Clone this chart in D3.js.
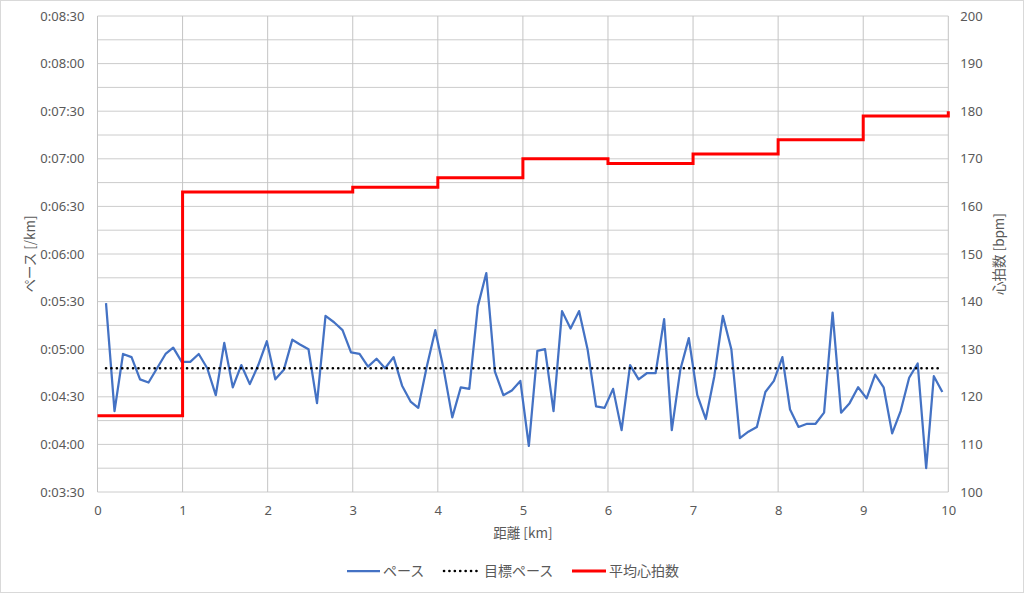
<!DOCTYPE html>
<html>
<head>
<meta charset="utf-8">
<script src="https://cdn.jsdelivr.net/npm/d3@7"></script>
<style>
  body { margin: 0; background: #fff; }
  svg { display: block; font-family: "Noto Sans CJK JP", "Noto Sans", sans-serif; }
</style>
</head>
<body>
<div id="chart"></div>
<script>
// distance of each pace sample [km]
const distances = [0.10, 0.20, 0.30, 0.40, 0.50, 0.60, 0.70, 0.80, 0.89, 0.99,
    1.09, 1.19, 1.29, 1.39, 1.49, 1.59, 1.69, 1.79, 1.89, 1.99,
    2.09, 2.19, 2.29, 2.38, 2.48, 2.58, 2.68, 2.78, 2.88, 2.98,
    3.08, 3.18, 3.28, 3.38, 3.48, 3.58, 3.68, 3.77, 3.87, 3.97,
    4.07, 4.17, 4.27, 4.37, 4.47, 4.57, 4.67, 4.77, 4.87, 4.97,
    5.07, 5.17, 5.26, 5.36, 5.46, 5.56, 5.66, 5.76, 5.86, 5.96,
    6.06, 6.16, 6.26, 6.36, 6.46, 6.56, 6.66, 6.75, 6.85, 6.95,
    7.05, 7.15, 7.25, 7.35, 7.45, 7.55, 7.65, 7.75, 7.85, 7.95,
    8.05, 8.14, 8.24, 8.34, 8.44, 8.54, 8.64, 8.74, 8.84, 8.94,
    9.04, 9.14, 9.24, 9.34, 9.44, 9.54, 9.64, 9.74, 9.83, 9.93]

// pace [seconds per km]
const pace = [329, 261, 297, 295, 281, 279, 288, 297, 301, 292,
    292, 297, 288, 271, 304, 276, 290, 278, 290, 305,
    281, 287, 306, 303, 300, 266, 321, 317, 312, 298,
    297, 289, 294, 288, 295, 277, 267, 263, 289, 312,
    287, 257, 276, 275, 327, 348, 286, 271, 274, 280,
    239, 299, 300, 261, 324, 313, 324, 300, 264, 263,
    275, 249, 290, 281, 285, 285, 319, 249, 287, 307,
    271, 256, 283, 321, 300, 244, 248, 251, 273, 280,
    295, 262, 251, 253, 253, 260, 323, 260, 266, 276,
    269, 284, 276, 247, 261, 282, 291, 225, 283, 273]

const targetPace = 288

// average heart rate per km (value holds until next km)
const hrDistances = [0, 1, 2, 3, 4, 5, 6, 7, 8, 9, 10]
const heartRate = [116, 163, 163, 164, 166, 170, 169, 171, 174, 179, 180]

const xTicks = [0, 1, 2, 3, 4, 5, 6, 7, 8, 9, 10]
const paceTicks = [210, 240, 270, 300, 330, 360, 390, 420, 450, 480, 510]
const hrTicks = [100, 110, 120, 130, 140, 150, 160, 170, 180, 190, 200]

const seriesNames = ["ペース", "目標ペース", "平均心拍数"]

const width = 1024
const height = 593
const plotLeft = 97.5, plotRight = 948.3, plotTop = 16, plotBottom = 492

const x = d3.scaleLinear().domain([0, 10]).range([plotLeft, plotRight])
const yPace = d3.scaleLinear().domain([210, 510]).range([plotBottom, plotTop])
const yHr = d3.scaleLinear().domain([100, 200]).range([plotBottom, plotTop])

const fmtPace = s => `0:${String(Math.floor(s / 60)).padStart(2, "0")}:${String(s % 60).padStart(2, "0")}`

const svg = d3.select("#chart")
    .append("svg")
    .attr("width", width)
    .attr("height", height)

svg.append("rect")
    .attr("x", 0.5).attr("y", 0.5)
    .attr("width", width - 1).attr("height", height - 1)
    .attr("fill", "#fff")
    .attr("stroke", "#d9d9d9")

// gridlines: every 15 s horizontally, every km vertically
const gridPace = d3.range(210, 511, 15)
svg.append("g")
    .attr("stroke", "#cccccc")
    .attr("stroke-width", 1)
    .selectAll("line")
    .data(gridPace)
    .join("line")
    .attr("x1", plotLeft).attr("x2", plotRight)
    .attr("y1", d => yPace(d)).attr("y2", d => yPace(d))

svg.append("g")
    .attr("stroke", "#c4c4c4")
    .attr("stroke-width", 1)
    .selectAll("line")
    .data(xTicks)
    .join("line")
    .attr("x1", d => x(d)).attr("x2", d => x(d))
    .attr("y1", plotTop).attr("y2", plotBottom)

// axes (labels only)
const axisStyle = g => {
    g.select(".domain").remove()
    g.selectAll(".tick line").remove()
    g.selectAll("text")
        .attr("fill", "#595959")
        .attr("font-size", 13)
        .attr("font-family", "\"Noto Sans\", sans-serif")
}

svg.append("g")
    .attr("transform", `translate(${plotLeft - 4},0)`)
    .call(d3.axisLeft(yPace).tickValues(paceTicks).tickFormat(fmtPace).tickSize(0).tickPadding(9))
    .call(axisStyle)

svg.append("g")
    .attr("transform", `translate(${plotRight + 3},0)`)
    .call(d3.axisRight(yHr).tickValues(hrTicks).tickSize(0).tickPadding(9))
    .call(axisStyle)

svg.append("g")
    .attr("transform", `translate(0,${plotBottom + 6})`)
    .call(d3.axisBottom(x).tickValues(xTicks).tickSize(0).tickPadding(8))
    .call(axisStyle)

// axis titles
svg.append("text")
    .attr("x", (plotLeft + plotRight) / 2)
    .attr("y", 538)
    .attr("text-anchor", "middle")
    .attr("font-size", 13.5)
    .attr("fill", "#595959")
    .text("距離 [km]")

svg.append("text")
    .attr("transform", `translate(35,${(plotTop + plotBottom) / 2}) rotate(-90)`)
    .attr("text-anchor", "middle")
    .attr("font-size", 13.5)
    .attr("fill", "#595959")
    .text("ペース [/km]")

svg.append("text")
    .attr("transform", `translate(1004,${(plotTop + plotBottom) / 2}) rotate(-90)`)
    .attr("text-anchor", "middle")
    .attr("font-size", 13.5)
    .attr("fill", "#595959")
    .text("心拍数 [bpm]")

// series
const paceLine = d3.line()
    .x((d, i) => x(distances[i]))
    .y(d => yPace(d))

svg.append("path")
    .datum(pace)
    .attr("fill", "none")
    .attr("stroke", "#4472c4")
    .attr("stroke-width", 2.25)
    .attr("stroke-linejoin", "round")
    .attr("d", paceLine)

const targetData = [distances[0], distances[distances.length - 1]]
svg.append("path")
    .datum(targetData)
    .attr("fill", "none")
    .attr("stroke", "#000")
    .attr("stroke-width", 2.6)
    .attr("stroke-linecap", "round")
    .attr("stroke-dasharray", "0.1 5.3")
    .attr("d", d3.line().x(d => x(d)).y(() => yPace(targetPace)))

const hrLine = d3.line()
    .curve(d3.curveStepAfter)
    .x((d, i) => x(hrDistances[i]))
    .y(d => yHr(d))

svg.append("path")
    .datum(heartRate)
    .attr("fill", "none")
    .attr("stroke", "#ff0000")
    .attr("stroke-width", 3)
    .attr("d", hrLine)

// legend
const legendY = 571
const legendItems = [
    {name: seriesNames[0], x0: 347, x1: 380, color: "#4472c4", w: 2.25, dash: null},
    {name: seriesNames[1], x0: 444, x1: 477, color: "#000", w: 2.6, dash: "0.1 5.3"},
    {name: seriesNames[2], x0: 572, x1: 606, color: "#ff0000", w: 3, dash: null}
]

const legend = svg.append("g")
    .selectAll("g")
    .data(legendItems)
    .join("g")

legend.append("line")
    .attr("x1", d => d.x0).attr("x2", d => d.x1)
    .attr("y1", legendY).attr("y2", legendY)
    .attr("stroke", d => d.color)
    .attr("stroke-width", d => d.w)
    .attr("stroke-linecap", d => d.dash ? "round" : "butt")
    .attr("stroke-dasharray", d => d.dash)

legend.append("text")
    .attr("x", d => d.x1 + (d.dash ? 7 : 3))
    .attr("y", legendY + 5)
    .attr("font-size", 14)
    .attr("fill", "#595959")
    .text(d => d.name)
</script>
</body>
</html>
